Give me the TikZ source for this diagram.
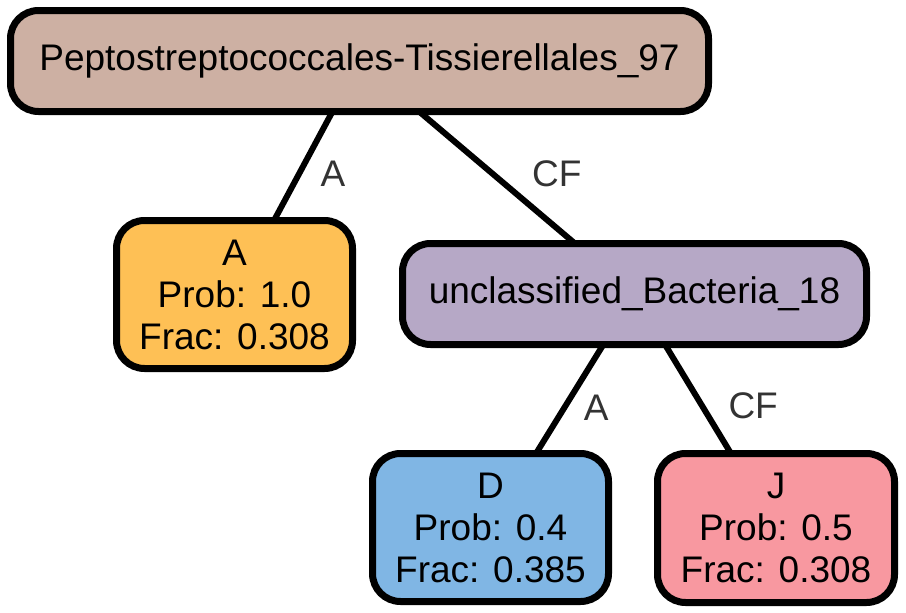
\documentclass[tikz,border=0pt]{standalone}
\usepackage{fontspec}
\setmainfont{Liberation Sans}
\pgfdeclarelayer{bg}
\pgfsetlayers{bg,main}
\definecolor{rootc}{RGB}{205,176,163}
\definecolor{ac}{RGB}{254,192,85}
\definecolor{uc}{RGB}{182,168,198}
\definecolor{dc}{RGB}{128,182,228}
\definecolor{jc}{RGB}{248,152,160}
\definecolor{lblc}{RGB}{51,51,51}
\begin{document}
\begin{tikzpicture}[x=1pt,y=-1pt,
  tnode/.style={draw=black, line width=7pt, rounded corners=28pt, inner sep=0pt, outer sep=0pt,
    align=center, font=\fontsize{37}{42}\selectfont, text=black},
  edgeline/.style={line width=6pt, draw=black},
  lbl/.style={font=\fontsize{37}{42}\selectfont, text=lblc, inner sep=0pt}]
\useasboundingbox (0,0) rectangle (906,613);
\node[tnode, fill=rootc, minimum width=698pt, minimum height=101pt] (root) at (359.5,61) {Peptostreptococcales-Tissierellales\_97};
\node[tnode, fill=ac, minimum width=236pt, minimum height=148pt] (a) at (234.5,294.5) {A\\Prob: 1.0\\Frac: 0.308};
\node[tnode, fill=uc, minimum width=464pt, minimum height=101pt] (u) at (634.5,294) {unclassified\_Bacteria\_18};
\node[tnode, fill=dc, minimum width=236pt, minimum height=148pt] (d) at (490.5,527.5) {D\\Prob: 0.4\\Frac: 0.385};
\node[tnode, fill=jc, minimum width=237pt, minimum height=149pt] (j) at (776,528) {J\\Prob: 0.5\\Frac: 0.308};
\begin{pgfonlayer}{bg}
\draw[edgeline] (root) -- node[lbl, pos=0.573, xshift=34pt] {A} (a);
\draw[edgeline] (root) -- node[lbl, pos=0.473, xshift=64pt] {CF} (u);
\draw[edgeline] (u) -- node[lbl, pos=0.583, xshift=32pt] {A} (d);
\draw[edgeline] (u) -- node[lbl, pos=0.564, xshift=51pt] {CF} (j);
\end{pgfonlayer}
\end{tikzpicture}
\end{document}
